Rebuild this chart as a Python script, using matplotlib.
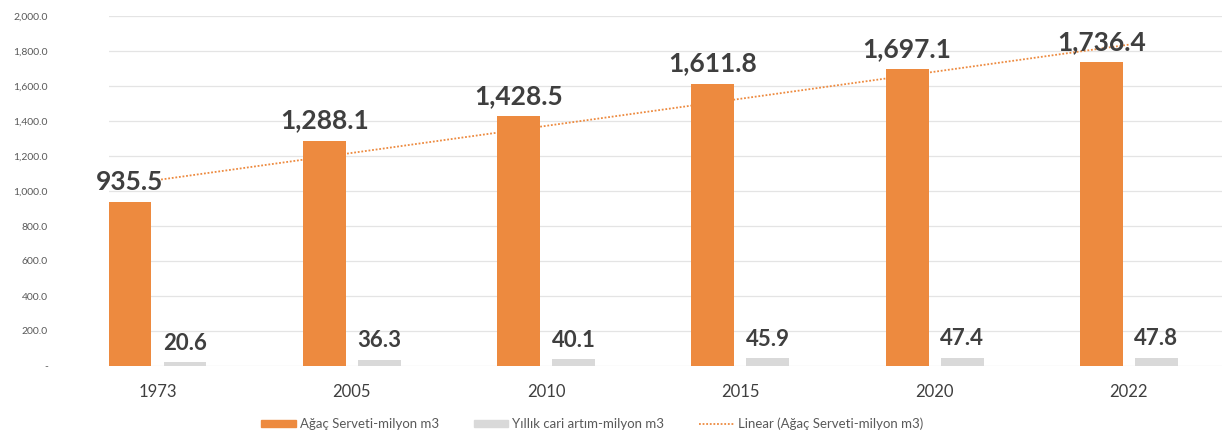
import numpy as np
import matplotlib
matplotlib.use('Agg')
import matplotlib.pyplot as plt
from matplotlib.patches import Patch
from matplotlib.lines import Line2D
from matplotlib.ticker import FuncFormatter

plt.rcParams['font.family'] = ['Lato', 'DejaVu Sans']

# data
years = ['1973', '2005', '2010', '2015', '2020', '2022']
agac_serveti = [935.5, 1288.1, 1428.5, 1611.8, 1697.1, 1736.4]
yillik_artim = [20.6, 36.3, 40.1, 45.9, 47.4, 47.8]

orange = '#ED8A3F'
gray = '#D9D9D9'
label_col = '#3F3F3F'
axis_col = '#595959'


def fmt_y(v, pos):
    if v == 0:
        return '-'
    return f'{v:,.1f}'


def draw_chart():
    fig = plt.figure(figsize=(12.22, 4.36), dpi=100)
    ax = fig.add_axes([109 / 1222, 70 / 436, 1 - 109 / 1222, 350 / 436])

    x = np.arange(len(years))
    w = 0.221
    off = 0.1415

    bars1 = ax.bar(x - off, agac_serveti, w, color=orange, zorder=3)
    bars2 = ax.bar(x + off, yillik_artim, w, color=gray, zorder=3)

    # Excel style linear trendline of the first series
    coef = np.polyfit(x, agac_serveti, 1)
    ax.plot(x, np.polyval(coef, x), color=orange, lw=1.3,
            linestyle=(0, (1, 1)), zorder=2)

    for b, v in zip(bars1, agac_serveti):
        ax.annotate(f'{v:,.1f}', (b.get_x() + b.get_width() / 2, v),
                    xytext=(0, 6), textcoords='offset points',
                    ha='center', va='bottom', fontsize=19, fontweight='bold',
                    color=label_col, zorder=4)
    for b, v in zip(bars2, yillik_artim):
        ax.annotate(f'{v:,.1f}', (b.get_x() + b.get_width() / 2, v),
                    xytext=(0, 6), textcoords='offset points',
                    ha='center', va='bottom', fontsize=16, fontweight='bold',
                    color=label_col, zorder=4)

    ax.set_xlim(-0.2496, 5.479)
    ax.set_ylim(0, 2000)
    ax.set_yticks(np.arange(0, 2001, 200))
    ax.yaxis.set_major_formatter(FuncFormatter(fmt_y))
    ax.set_xticks(x)
    ax.set_xticklabels(years)

    ax.grid(axis='y', color='#E4E4E4', lw=0.9, zorder=0)
    ax.set_axisbelow(True)
    for s in ax.spines.values():
        s.set_visible(False)

    ax.tick_params(axis='y', length=0, pad=44, labelsize=7.5, labelcolor=axis_col)
    ax.tick_params(axis='x', length=0, pad=13, labelsize=12, labelcolor=label_col)

    handles = [
        Patch(color=orange, label='Ağaç Serveti-milyon m3'),
        Patch(color=gray, label='Yıllık cari artım-milyon m3'),
        Line2D([], [], color=orange, lw=1.3, linestyle=(0, (1, 1)),
               label='Linear (Ağaç Serveti-milyon m3)'),
    ]
    fig.legend(handles=handles, loc='center', bbox_to_anchor=(0.4845, 0.028),
               ncol=3, frameon=False, fontsize=9.5, labelcolor=axis_col,
               handlelength=2.65, handleheight=0.5, handletextpad=0.3,
               columnspacing=2.6)

    fig.savefig('out.png', dpi=100)


if __name__ == '__main__':
    draw_chart()
